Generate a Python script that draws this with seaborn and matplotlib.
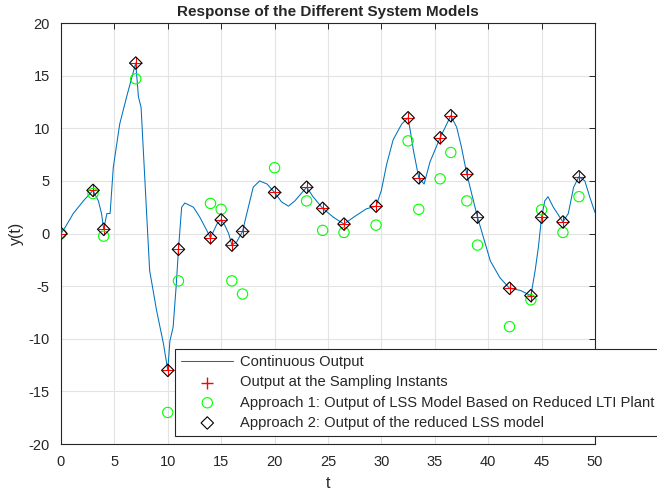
#!/usr/bin/env python3
"""Response of the different system models: continuous output vs sampled / LSS models."""

import matplotlib
matplotlib.use("Agg")
import matplotlib.pyplot as plt
import numpy as np
import pandas as pd
import seaborn as sns

# continuous output
t_cont = [0, 0.4, 1.15, 2.1, 3.0, 3.5, 3.8, 4.0, 4.3, 4.6, 4.9, 5.5, 6.15, 7.0, 7.25, 7.5,
          8.3, 8.95, 9.6, 10.0, 10.2, 10.5, 10.8, 11.0, 11.3, 11.6, 12.4, 13.0, 13.65, 14.0,
          14.6, 15.0, 15.35, 15.7, 16.0, 16.45, 17.0, 17.4, 18.0, 18.6, 19.3, 20.0, 20.65,
          21.3, 21.9, 23.0, 23.6, 24.5, 25.5, 26.5, 27.4, 28.6, 29.5, 30.0, 30.5, 31.1, 31.9,
          32.5, 32.7, 33.0, 33.5, 34.0, 34.55, 35.5, 36.5, 37.05, 37.5, 38.0, 38.45, 39.0,
          39.55, 40.2, 41.1, 42.0, 43.0, 44.0, 44.4, 44.7, 45.0, 45.3, 45.6, 46.1, 47.0, 47.5,
          48.0, 48.5, 49.05, 49.5, 50.0]
y_cont = [0, 0.6, 1.9, 3.1, 4.1, 3.1, 1.9, 0.4, 1.9, 1.9, 6.3, 10.4, 13.0, 16.2, 13.0, 12.0,
          -3.5, -7.3, -10.5, -13.0, -10.2, -8.9, -4.8, -1.5, 2.5, 2.9, 2.5, 1.55, 0.3, -0.4,
          0.9, 1.3, 0.76, 0.0, -1.1, -0.8, 0.2, 1.9, 4.4, 5.0, 4.7, 3.9, 3.0,
          2.6, 3.1, 4.4, 3.5, 2.4, 1.55, 0.9, 1.55, 2.35, 2.6, 4.1, 6.6, 8.9, 10.4,
          11.0, 9.8, 7.9, 5.3, 4.7, 6.8, 9.1, 11.2, 10.1, 8.2, 5.65, 3.8, 1.55,
          -0.35, -2.6, -4.2, -5.2, -5.4, -5.9, -3.5, -1.3, 1.55, 3.1, 3.5, 2.5, 1.1, 1.9,
          4.4, 5.4, 5.0, 3.5, 2.0]

# sampling instants
t_samp = [0, 3, 4, 7, 10, 11, 14, 15, 16, 17, 20, 23, 24.5, 26.5, 29.5, 32.5, 33.5,
          35.5, 36.5, 38, 39, 42, 44, 45, 47, 48.5]
y_samp = [0, 4.1, 0.4, 16.2, -13.0, -1.5, -0.4, 1.3, -1.1, 0.2, 3.9, 4.4, 2.4, 0.9, 2.6,
          11.0, 5.3, 9.1, 11.2, 5.65, 1.55, -5.2, -5.9, 1.55, 1.1, 5.4]
y_app1 = [0, 3.8, -0.25, 14.7, -17.0, -4.5, 2.86, 2.3, -4.5, -5.75, 6.25, 3.1, 0.3, 0.1,
          0.8, 8.8, 2.3, 5.2, 7.7, 3.1, -1.1, -8.85, -6.3, 2.25, 0.1, 3.5]
y_app2 = y_samp  # reduced LSS model coincides with the samples

cont = pd.DataFrame({"t": t_cont, "y": y_cont})
samp = pd.DataFrame({"t": t_samp, "y": y_samp, "a1": y_app1, "a2": y_app2})

sns.set_theme(style="whitegrid")
plt.rcParams["font.family"] = ["Liberation Sans", "DejaVu Sans"]
plt.rcParams["axes.unicode_minus"] = False
plt.rcParams["axes.edgecolor"] = "#262626"
plt.rcParams["xtick.color"] = "#262626"
plt.rcParams["ytick.color"] = "#262626"

fig = plt.figure(figsize=(6.57, 4.95), dpi=100)
ax = fig.add_axes([0.0928, 0.103, 0.8128, 0.8505])

sns.lineplot(data=cont, x="t", y="y", ax=ax, color="#0072BD", linewidth=0.75,
             estimator=None, label="Continuous Output")
sns.scatterplot(data=samp, x="t", y="y", ax=ax, marker="+", s=65, color="red",
                edgecolor="red", linewidth=0.8,
                label="Output at the Sampling Instants", zorder=3)
sns.scatterplot(data=samp, x="t", y="a1", ax=ax, marker="o", s=55, facecolor="none",
                edgecolor="#00FF00", linewidth=0.8,
                label="Approach 1: Output of LSS Model Based on Reduced LTI Plant", zorder=3)
sns.scatterplot(data=samp, x="t", y="a2", ax=ax, marker="D", s=40, facecolor="none",
                edgecolor="black", linewidth=0.8,
                label="Approach 2: Output of the reduced LSS model", zorder=4)

ax.set_xlim(0, 50)
ax.set_ylim(-20, 20)
ax.set_xticks(np.arange(0, 51, 5))
ax.set_yticks(np.arange(-20, 21, 5))
ax.grid(True, color="#e3e3e3", linewidth=0.8)
for s in ax.spines.values():
    s.set_visible(True)
    s.set_color("#262626")
    s.set_linewidth(0.8)
ax.tick_params(direction="in", length=4, width=0.7, top=True, right=True,
               labelsize=10.5)
ax.tick_params(axis="x", pad=8)
ax.tick_params(axis="y", pad=8)
ax.set_xlabel("t", fontsize=11.5, labelpad=5)
ax.set_ylabel("y(t)", fontsize=11.5, labelpad=3)
ax.set_title("Response of the Different System Models", fontsize=11, fontweight="bold", pad=5)

leg = ax.legend(loc="lower left", bbox_to_anchor=(0.2135, 0.019), borderaxespad=0,
                fontsize=10.6, frameon=True, fancybox=False, labelspacing=0.42,
                handlelength=3.55, handletextpad=0.45, borderpad=0.42)
leg.get_frame().set_edgecolor("#262626")
leg.get_frame().set_linewidth(0.8)
leg.get_frame().set_alpha(1)
# the "+" handle comes out dull, force it back to plain red
plus_handle = leg.legend_handles[1]
plus_handle.set_edgecolor("red")
plus_handle.set_facecolor("red")
plus_handle.set_linewidth(1.0)

fig.savefig("out.png", dpi=100)
